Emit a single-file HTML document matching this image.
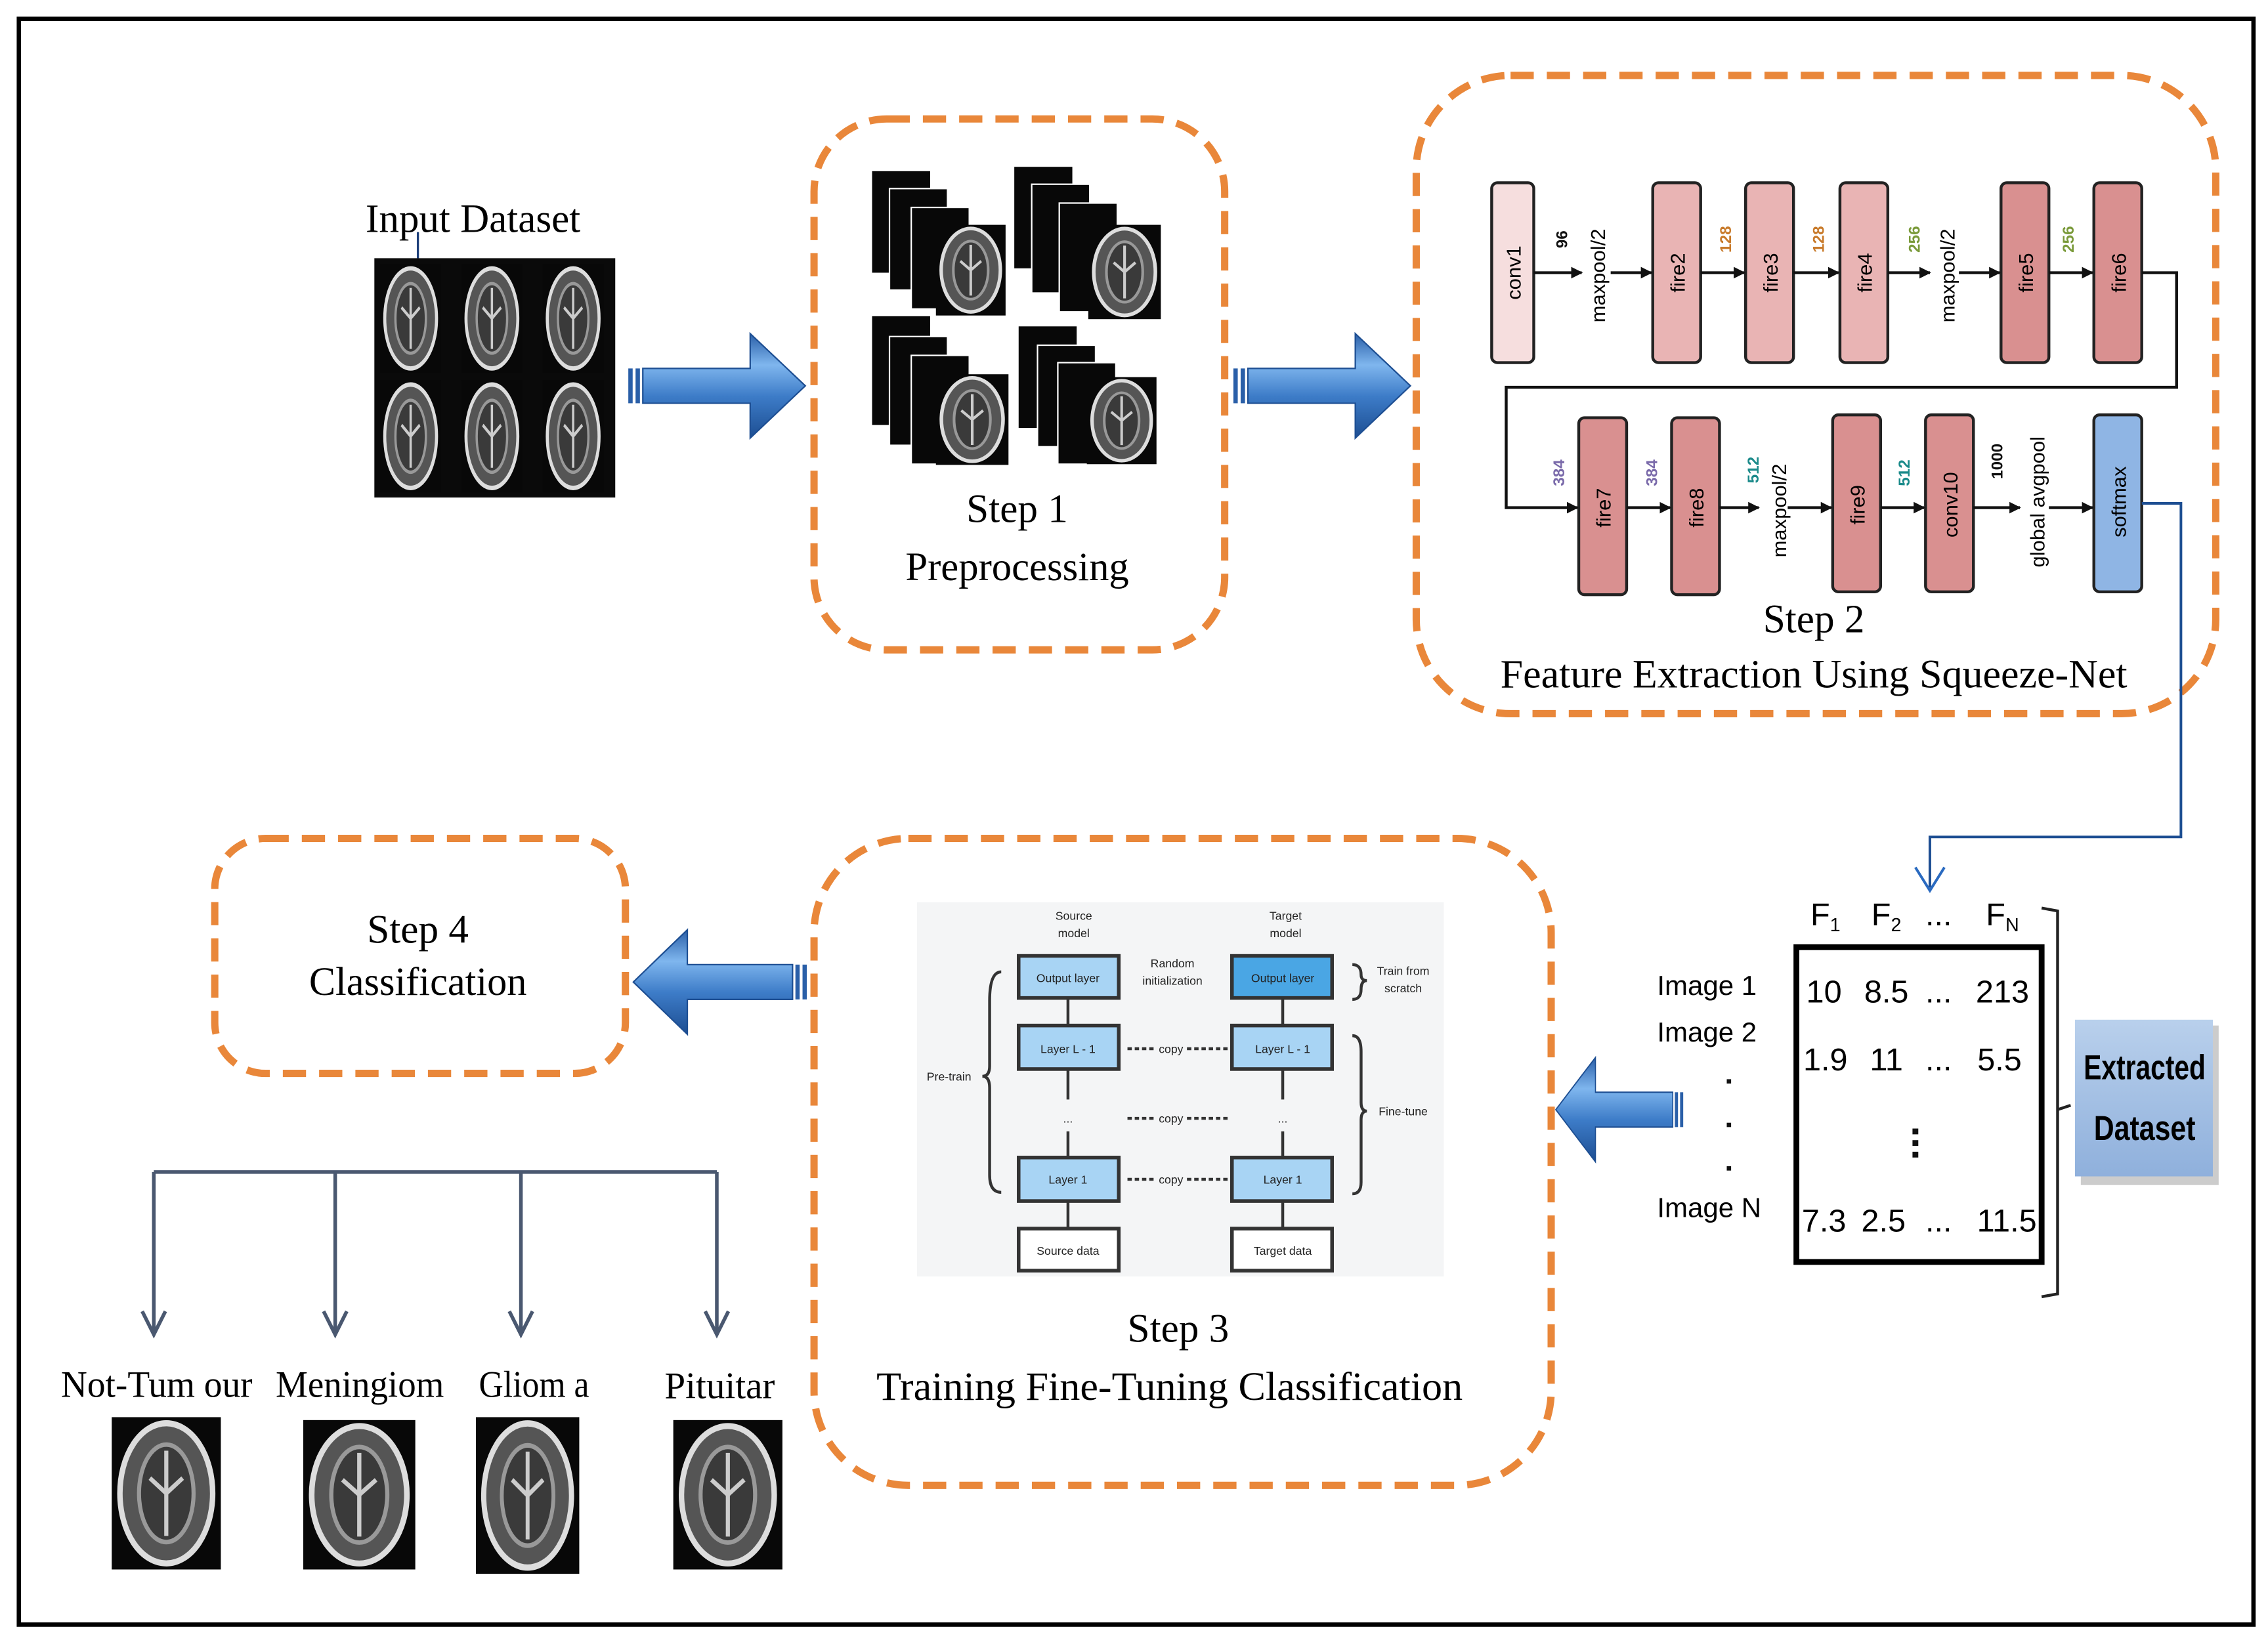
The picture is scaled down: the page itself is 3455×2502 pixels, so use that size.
<!DOCTYPE html>
<html><head><meta charset="utf-8"><style>
html,body{margin:0;padding:0;background:#fff}
svg{display:block}
.ser{font-family:"Liberation Serif",serif}
.sans{font-family:"Liberation Sans",sans-serif}
</style></head><body>
<svg width="3455" height="2502" viewBox="0 0 1563 1132" preserveAspectRatio="none" xmlns="http://www.w3.org/2000/svg">
<defs>
<linearGradient id="ag" x1="0" y1="0" x2="0" y2="1">
<stop offset="0" stop-color="#2a5fa8"/><stop offset="0.3" stop-color="#7fb6ee"/><stop offset="0.6" stop-color="#3d7cc8"/><stop offset="1" stop-color="#1d4e92"/></linearGradient>
<linearGradient id="ed" x1="0" y1="0" x2="0" y2="1"><stop offset="0" stop-color="#b9d0ec"/><stop offset="1" stop-color="#8fb0dc"/></linearGradient>
<marker id="ah" viewBox="0 0 10 10" refX="9" refY="5" markerWidth="4" markerHeight="4" orient="auto"><path d="M0 0 L10 5 L0 10 Z" fill="#111"/></marker>
<g id="brain">
<rect x="0" y="0" width="40" height="50" fill="#080808"/>
<ellipse cx="20" cy="25" rx="17" ry="23" fill="#555" stroke="#ddd" stroke-width="2"/>
<ellipse cx="20" cy="25" rx="10" ry="16" fill="#3a3a3a" stroke="#999" stroke-width="1.5"/>
<path d="M20 11 V39 M14 20 L20 25 L26 20" stroke="#ccc" stroke-width="1.5" fill="none"/>
</g>
<g id="rarrow">
<rect x="0" y="-12" width="3" height="24" fill="#2a5fa8"/>
<rect x="5" y="-12" width="3" height="24" fill="#2a5fa8"/>
<path d="M10 -12 H84 V-36 L122 0 L84 36 V12 H10 Z" fill="url(#ag)" stroke="#1d4e92" stroke-width="1"/>
</g>
</defs>

<rect x="13" y="13" width="1540" height="1107" fill="#fff" stroke="#000" stroke-width="3"/>

<text x="326" y="160" class="ser" font-size="28" text-anchor="middle" textLength="148" lengthAdjust="spacingAndGlyphs">Input Dataset</text>
<line x1="288" y1="160" x2="288" y2="178" stroke="#1d3f7a" stroke-width="1.5"/>
<rect x="258" y="178" width="166" height="165" fill="#0a0a0a"/>
<g transform="translate(262,182) scale(1.05,1.5)"><use href="#brain"/></g>
<g transform="translate(318,182) scale(1.05,1.5)"><use href="#brain"/></g>
<g transform="translate(374,182) scale(1.05,1.5)"><use href="#brain"/></g>
<g transform="translate(262,262) scale(1.05,1.55)"><use href="#brain"/></g>
<g transform="translate(318,262) scale(1.05,1.55)"><use href="#brain"/></g>
<g transform="translate(374,262) scale(1.05,1.55)"><use href="#brain"/></g>

<g transform="translate(433,266)"><use href="#rarrow"/></g>
<g transform="translate(850,266)"><use href="#rarrow"/></g>

<rect x="561" y="82" width="283" height="366" rx="50" fill="none" stroke="#e9873a" stroke-width="5" stroke-dasharray="16,9"/>
<g>
<rect x="601" y="118" width="40" height="70" fill="#080808"/>
<rect x="613" y="130" width="40" height="70" fill="#080808" stroke="#fff"/>
<rect x="628" y="143" width="40" height="70" fill="#080808" stroke="#fff"/>
<g transform="translate(645,155) scale(1.2,1.25)"><use href="#brain"/></g>
<rect x="699" y="115" width="40" height="70" fill="#080808"/>
<rect x="711" y="127" width="40" height="75" fill="#080808" stroke="#fff"/>
<rect x="730" y="140" width="40" height="75" fill="#080808" stroke="#fff"/>
<g transform="translate(750,155) scale(1.25,1.3)"><use href="#brain"/></g>
<rect x="601" y="218" width="40" height="75" fill="#080808"/>
<rect x="613" y="232" width="40" height="75" fill="#080808" stroke="#fff"/>
<rect x="628" y="245" width="40" height="75" fill="#080808" stroke="#fff"/>
<g transform="translate(645,258) scale(1.25,1.25)"><use href="#brain"/></g>
<rect x="702" y="225" width="40" height="70" fill="#080808"/>
<rect x="715" y="238" width="40" height="70" fill="#080808" stroke="#fff"/>
<rect x="729" y="250" width="40" height="70" fill="#080808" stroke="#fff"/>
<g transform="translate(749,260) scale(1.2,1.2)"><use href="#brain"/></g>
</g>
<text x="701" y="360" class="ser" font-size="28" text-anchor="middle" textLength="70" lengthAdjust="spacingAndGlyphs">Step 1</text>
<text x="701" y="400" class="ser" font-size="28" text-anchor="middle" textLength="154" lengthAdjust="spacingAndGlyphs">Preprocessing</text>

<rect x="976" y="52" width="551" height="440" rx="65" fill="none" stroke="#e9873a" stroke-width="5" stroke-dasharray="16,9"/>
<g stroke="#222" stroke-width="2">
<rect x="1028" y="126" width="29" height="124" rx="4" fill="#f6dede"/>
<rect x="1139" y="126" width="33" height="124" rx="4" fill="#e9b4b4"/>
<rect x="1203" y="126" width="33" height="124" rx="4" fill="#e9b4b4"/>
<rect x="1268" y="126" width="33" height="124" rx="4" fill="#e9b4b4"/>
<rect x="1379" y="126" width="33" height="124" rx="4" fill="#d99090"/>
<rect x="1443" y="126" width="33" height="124" rx="4" fill="#d99090"/>
<rect x="1088" y="288" width="33" height="122" rx="4" fill="#d99090"/>
<rect x="1152" y="288" width="33" height="122" rx="4" fill="#d99090"/>
<rect x="1263" y="286" width="33" height="122" rx="4" fill="#d99090"/>
<rect x="1327" y="286" width="33" height="122" rx="4" fill="#d99090"/>
<rect x="1443" y="286" width="33" height="122" rx="4" fill="#8fb5e4"/>
</g>
<g stroke="#111" stroke-width="2" fill="none" marker-end="url(#ah)">
<path d="M1057 188 H1090"/><path d="M1110 188 H1138"/><path d="M1172 188 H1202"/><path d="M1236 188 H1267"/><path d="M1301 188 H1330"/><path d="M1350 188 H1378"/><path d="M1412 188 H1442"/>
<path d="M1476 188 H1500 V267 H1038 V350 H1087"/>
<path d="M1121 350 H1151"/><path d="M1185 350 H1212"/><path d="M1232 350 H1262"/><path d="M1296 350 H1326"/><path d="M1360 350 H1392"/><path d="M1412 350 H1442"/>
</g>
<g class="sans" font-size="14">
<text transform="translate(1048,188) rotate(-90)" text-anchor="middle">conv1</text>
<text transform="translate(1161,188) rotate(-90)" text-anchor="middle">fire2</text>
<text transform="translate(1225,188) rotate(-90)" text-anchor="middle">fire3</text>
<text transform="translate(1290,188) rotate(-90)" text-anchor="middle">fire4</text>
<text transform="translate(1401,188) rotate(-90)" text-anchor="middle">fire5</text>
<text transform="translate(1465,188) rotate(-90)" text-anchor="middle">fire6</text>
<text transform="translate(1110,350) rotate(-90)" text-anchor="middle">fire7</text>
<text transform="translate(1174,350) rotate(-90)" text-anchor="middle">fire8</text>
<text transform="translate(1285,348) rotate(-90)" text-anchor="middle">fire9</text>
<text transform="translate(1349,348) rotate(-90)" text-anchor="middle">conv10</text>
<text transform="translate(1465,346) rotate(-90)" text-anchor="middle">softmax</text>
<text transform="translate(1106,190) rotate(-90)" text-anchor="middle">maxpool/2</text>
<text transform="translate(1347,190) rotate(-90)" text-anchor="middle">maxpool/2</text>
<text transform="translate(1231,352) rotate(-90)" text-anchor="middle">maxpool/2</text>
<text transform="translate(1409,346) rotate(-90)" text-anchor="middle">global avgpool</text>
</g>
<g class="sans" font-size="11" font-weight="bold">
<text transform="translate(1080,165) rotate(-90)" text-anchor="middle" fill="#111">96</text>
<text transform="translate(1193,165) rotate(-90)" text-anchor="middle" fill="#c87a2a">128</text>
<text transform="translate(1257,165) rotate(-90)" text-anchor="middle" fill="#c87a2a">128</text>
<text transform="translate(1323,165) rotate(-90)" text-anchor="middle" fill="#7a9a3a">256</text>
<text transform="translate(1429,165) rotate(-90)" text-anchor="middle" fill="#7a9a3a">256</text>
<text transform="translate(1078,326) rotate(-90)" text-anchor="middle" fill="#7a6aaa">384</text>
<text transform="translate(1142,326) rotate(-90)" text-anchor="middle" fill="#7a6aaa">384</text>
<text transform="translate(1212,324) rotate(-90)" text-anchor="middle" fill="#1a8a8a">512</text>
<text transform="translate(1316,326) rotate(-90)" text-anchor="middle" fill="#1a8a8a">512</text>
<text transform="translate(1380,318) rotate(-90)" text-anchor="middle" fill="#111">1000</text>
</g>
<text x="1250" y="436" class="ser" font-size="28" text-anchor="middle" textLength="70" lengthAdjust="spacingAndGlyphs">Step 2</text>
<text x="1250" y="474" class="ser" font-size="28" text-anchor="middle" textLength="432" lengthAdjust="spacingAndGlyphs">Feature Extraction Using Squeeze-Net</text>

<path d="M1476 347 H1503 V577 H1330 V612" fill="none" stroke="#1d4e92" stroke-width="1.8"/>
<path d="M1320 598 L1330 614 L1340 598" fill="none" stroke="#2a6ac0" stroke-width="1.8"/>

<g class="sans" font-size="22">
<text x="1258" y="638" text-anchor="middle">F<tspan font-size="13" dy="4">1</tspan></text>
<text x="1300" y="638" text-anchor="middle">F<tspan font-size="13" dy="4">2</tspan></text>
<text x="1336" y="638" text-anchor="middle">...</text>
<text x="1380" y="638" text-anchor="middle">F<tspan font-size="13" dy="4">N</tspan></text>
<text x="1257" y="691" text-anchor="middle">10</text>
<text x="1300" y="691" text-anchor="middle">8.5</text>
<text x="1336" y="691" text-anchor="middle">...</text>
<text x="1380" y="691" text-anchor="middle">213</text>
<text x="1258" y="738" text-anchor="middle">1.9</text>
<text x="1300" y="738" text-anchor="middle">11</text>
<text x="1336" y="738" text-anchor="middle">...</text>
<text x="1378" y="738" text-anchor="middle">5.5</text>
<text x="1257" y="849" text-anchor="middle">7.3</text>
<text x="1298" y="849" text-anchor="middle">2.5</text>
<text x="1336" y="849" text-anchor="middle">...</text>
<text x="1383" y="849" text-anchor="middle">11.5</text>
</g>
<g fill="#111"><rect x="1318" y="778" width="4" height="4"/><rect x="1318" y="786" width="4" height="4"/><rect x="1318" y="794" width="4" height="4"/></g>
<rect x="1238" y="653" width="169" height="217" fill="none" stroke="#000" stroke-width="4"/>
<path d="M1407 626 L1418 628 V765 L1427 762 M1418 765 V892 L1407 894" fill="none" stroke="#222" stroke-width="2"/>
<g class="sans" font-size="19">
<text x="1142" y="686">Image 1</text>
<text x="1142" y="718">Image 2</text>
<text x="1142" y="839">Image N</text>
</g>
<g fill="#111"><rect x="1190" y="744" width="3" height="3"/><rect x="1190" y="774" width="3" height="3"/><rect x="1190" y="804" width="3" height="3"/></g>
<rect x="1434" y="707" width="95" height="110" fill="#999" opacity="0.5"/>
<rect x="1430" y="703" width="95" height="108" fill="url(#ed)"/>
<text x="1478" y="744" class="sans" font-size="24" font-weight="bold" text-anchor="middle" textLength="84" lengthAdjust="spacingAndGlyphs">Extracted</text>
<text x="1478" y="786" class="sans" font-size="24" font-weight="bold" text-anchor="middle" textLength="70" lengthAdjust="spacingAndGlyphs">Dataset</text>

<g transform="translate(1160,765) scale(-0.72,1)"><use href="#rarrow"/></g>

<rect x="561" y="578" width="508" height="446" rx="65" fill="none" stroke="#e9873a" stroke-width="5" stroke-dasharray="16,9"/>
<rect x="632" y="622" width="363" height="258" fill="#f4f5f6"/>
<g stroke="#333" stroke-width="2.5" fill="#a8d4f4">
<rect x="702" y="659" width="69" height="29"/>
<rect x="849" y="659" width="69" height="29" fill="#4aa6e4"/>
<rect x="702" y="707" width="69" height="30"/>
<rect x="849" y="707" width="69" height="30"/>
<rect x="702" y="798" width="69" height="30"/>
<rect x="849" y="798" width="69" height="30"/>
<rect x="702" y="847" width="69" height="29" fill="#fff"/>
<rect x="849" y="847" width="69" height="29" fill="#fff"/>
</g>
<g stroke="#333" stroke-width="2" fill="none">
<path d="M736 688 V707 M884 688 V707 M736 737 V758 M884 737 V758 M736 780 V798 M884 780 V798 M736 828 V847 M884 828 V847"/>
<path d="M777 723 H796 M818 723 H848 M777 771 H796 M818 771 H848 M777 813 H796 M818 813 H848" stroke-dasharray="3,2"/>
<path d="M690 670 Q682 670 682 690 V735 Q682 742 677 742 Q682 742 682 750 V810 Q682 822 690 822"/>
<path d="M932 665 Q938 665 938 672 Q938 676 942 676 Q938 676 938 682 Q938 689 932 689"/>
<path d="M932 714 Q938 714 938 725 V760 Q938 766 942 766 Q938 766 938 772 V815 Q938 823 932 823"/>
</g>
<g class="sans" font-size="8" fill="#222" text-anchor="middle">
<text x="740" y="634">Source</text><text x="740" y="646">model</text>
<text x="886" y="634">Target</text><text x="886" y="646">model</text>
<text x="808" y="667">Random</text><text x="808" y="679">initialization</text>
<text x="736" y="677">Output layer</text><text x="884" y="677">Output layer</text>
<text x="736" y="726">Layer L - 1</text><text x="884" y="726">Layer L - 1</text>
<text x="736" y="816">Layer 1</text><text x="884" y="816">Layer 1</text>
<text x="736" y="865">Source data</text><text x="884" y="865">Target data</text>
<text x="807" y="726">copy</text><text x="807" y="774">copy</text><text x="807" y="816">copy</text>
<text x="736" y="774">...</text><text x="884" y="774">...</text>
<text x="654" y="745">Pre-train</text>
<text x="967" y="672">Train from</text><text x="967" y="684">scratch</text>
<text x="967" y="769">Fine-tune</text>
</g>
<text x="812" y="925" class="ser" font-size="28" text-anchor="middle" textLength="70" lengthAdjust="spacingAndGlyphs">Step 3</text>
<text x="806" y="965" class="ser" font-size="28" text-anchor="middle" textLength="404" lengthAdjust="spacingAndGlyphs">Training Fine-Tuning Classification</text>

<g transform="translate(556,677) scale(-0.98,1)"><use href="#rarrow"/></g>

<rect x="148" y="578" width="283" height="162" rx="35" fill="none" stroke="#e9873a" stroke-width="5" stroke-dasharray="16,9"/>
<text x="288" y="650" class="ser" font-size="28" text-anchor="middle" textLength="70" lengthAdjust="spacingAndGlyphs">Step 4</text>
<text x="288" y="686" class="ser" font-size="28" text-anchor="middle" textLength="150" lengthAdjust="spacingAndGlyphs">Classification</text>

<g stroke="#4a5870" stroke-width="2.5" fill="none">
<path d="M106 808 H494 M106 808 V918 M231 808 V918 M359 808 V918 M494 808 V918"/>
<path d="M98 904 L106 920 L114 904 M223 904 L231 920 L239 904 M351 904 L359 920 L367 904 M486 904 L494 920 L502 904"/>
</g>
<g class="ser" font-size="26" text-anchor="middle">
<text x="108" y="963" textLength="132" lengthAdjust="spacingAndGlyphs">Not-Tum our</text>
<text x="248" y="963" textLength="116" lengthAdjust="spacingAndGlyphs">Meningiom</text>
<text x="368" y="963" textLength="76" lengthAdjust="spacingAndGlyphs">Gliom a</text>
<text x="496" y="964" textLength="76" lengthAdjust="spacingAndGlyphs">Pituitar</text>
</g>
<g transform="translate(77,977) scale(1.88,2.1)"><use href="#brain"/></g>
<g transform="translate(209,979) scale(1.93,2.06)"><use href="#brain"/></g>
<g transform="translate(328,977) scale(1.78,2.16)"><use href="#brain"/></g>
<g transform="translate(464,979) scale(1.88,2.06)"><use href="#brain"/></g>
</svg>
</body></html>
